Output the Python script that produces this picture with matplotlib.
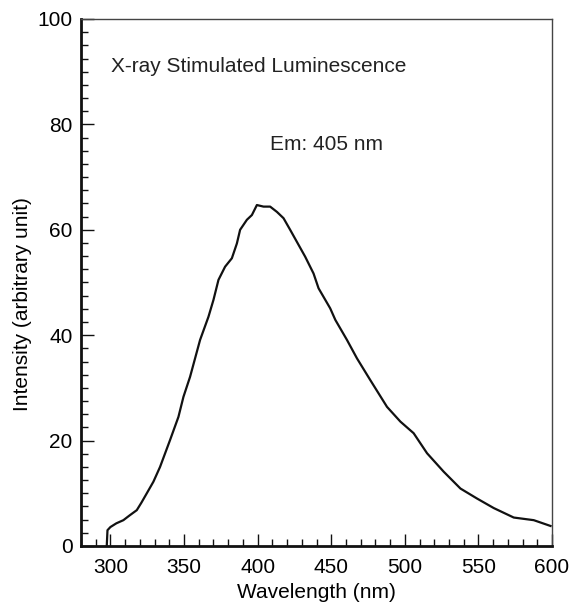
import matplotlib
matplotlib.use("Agg")
import matplotlib.pyplot as plt
from matplotlib.ticker import MultipleLocator

plt.rcParams['font.family'] = ['Liberation Sans', 'DejaVu Sans']

wavelength = [297.5, 298.0, 300.0, 304.0, 308.8, 313.0, 317.9, 321.0, 324.7, 329.2,
              333.7, 340.5, 346.2, 349.6, 354.1, 360.9, 366.6, 370.0, 373.4, 377.9,
              382.5, 385.9, 388.1, 392.7, 396.1, 399.5, 404.0, 408.5, 413.1, 417.6,
              422.1, 426.7, 432.3, 438.0, 441.4, 449.3, 452.8, 460.7, 467.5, 476.5,
              487.9, 497.0, 506.0, 515.1, 526.4, 537.8, 549.1, 560.4, 574.0, 587.6,
              599.0]
intensity = [0.0, 3.0, 3.6, 4.3, 4.9, 5.8, 6.8, 8.2, 10.0, 12.2,
             15.0, 20.1, 24.5, 28.3, 32.1, 39.1, 43.5, 46.7, 50.5, 53.0,
             54.6, 57.4, 60.0, 61.9, 62.8, 64.7, 64.4, 64.4, 63.4, 62.2,
             60.0, 57.7, 54.9, 51.7, 48.9, 45.1, 42.9, 39.1, 35.6, 31.5,
             26.4, 23.6, 21.4, 17.6, 14.1, 10.9, 9.0, 7.2, 5.4, 4.9,
             3.8]

x_ticks = [300, 350, 400, 450, 500, 550, 600]
y_ticks = [0, 20, 40, 60, 80, 100]

fig = plt.figure(figsize=(5.74, 6.07), dpi=100)
ax = fig.add_axes([0.1411, 0.1005, 0.8206, 0.8682])
ax.plot(wavelength, intensity, color='#111111', lw=1.6)

ax.set_xlim(280, 600)
ax.set_ylim(0, 100)
ax.set_xticks(x_ticks)
ax.set_yticks(y_ticks)
ax.xaxis.set_minor_locator(MultipleLocator(10))
ax.yaxis.set_minor_locator(MultipleLocator(2.5))
ax.tick_params(which='both', direction='in', top=False, right=False,
               labelsize=15, width=1, color='#111111')
ax.tick_params(which='major', length=9)
ax.tick_params(which='minor', length=5)
ax.tick_params(axis='x', which='major', pad=9)
ax.tick_params(axis='y', which='major', pad=6)

for s in ['left', 'bottom']:
    ax.spines[s].set_linewidth(2)
    ax.spines[s].set_color('#111111')
for s in ['top', 'right']:
    ax.spines[s].set_linewidth(1)
    ax.spines[s].set_color('#444444')

ax.set_xlabel('Wavelength (nm)', fontsize=15, labelpad=4)
ax.set_ylabel('Intensity (arbitrary unit)', fontsize=15)
ax.yaxis.set_label_coords(-0.105, 0.46)

ax.text(300.4, 90, 'X-ray Stimulated Luminescence', fontsize=15, color='#222222')
ax.text(408.5, 75.1, 'Em: 405 nm', fontsize=15, color='#222222')

fig.savefig('out.png', dpi=100)
